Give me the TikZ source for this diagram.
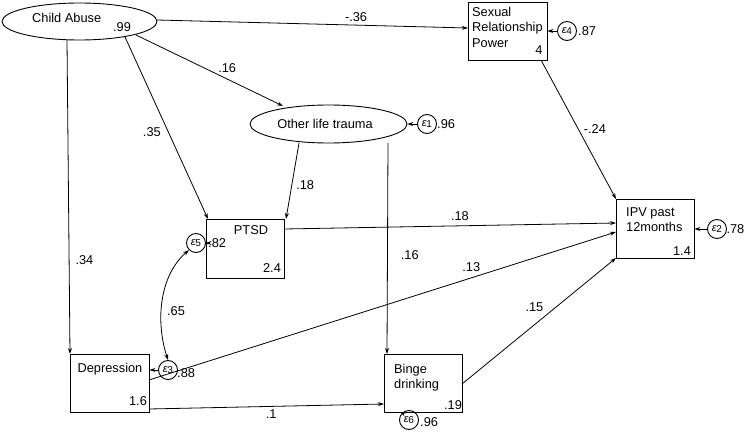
\documentclass[tikz,border=0pt]{standalone}
\usepackage{fontspec}
\setmainfont{Liberation Sans}
\usetikzlibrary{shapes.geometric,arrows.meta}
\newcommand{\errlab}[1]{\textit{ε}\kern-0.5pt\raisebox{-1.5pt}{\fontsize{10}{10}\selectfont #1}}
\begin{document}
\begin{tikzpicture}[x=1pt,y=-1pt,
  font=\fontsize{12.8}{15.5}\selectfont,
  varbox/.style={draw, line width=0.9pt, rectangle, inner sep=0pt},
  latent/.style={draw, line width=0.9pt, ellipse, inner sep=0pt},
  errc/.style={draw, line width=0.9pt, circle, inner sep=0pt, minimum size=19pt, font=\fontsize{11}{11}\selectfont},
  path/.style={line width=0.8pt, -{Stealth[length=6pt,width=4pt]}},
  cov/.style={line width=0.8pt, {Stealth[length=6pt,width=4pt]}-{Stealth[length=6pt,width=4pt]}},
  coef/.style={inner sep=1pt},
  txt/.style={inner sep=0pt, align=left}]
\useasboundingbox (0,0) rectangle (745,433);

% latent variables
\node[latent, minimum width=155pt, minimum height=37pt] (ca) at (79.5,21.5) {};
\node[txt, anchor=west] (catxt) at (32,18) {Child Abuse};
\node[txt] (caval) at (122,27) {.99};

\node[latent, minimum width=157pt, minimum height=38pt] (olt) at (328.5,124) {};
\node[txt] (olttxt) at (325,124) {Other life trauma};

% observed variables
\node[varbox, minimum width=79pt, minimum height=58pt] (srp) at (507.5,31) {};
\node[txt, anchor=north west] (srptxt) at (472,7) {Sexual\\Relationship\\Power};
\node[txt] (srpval) at (539,50) {4};

\node[varbox, minimum width=78pt, minimum height=59pt] (ptsd) at (245,248.5) {};
\node[txt] (ptsdtxt) at (251,230) {PTSD};
\node[txt] (ptsdval) at (272,268) {2.4};

\node[varbox, minimum width=78pt, minimum height=59pt] (ipv) at (655,228.5) {};
\node[txt, anchor=north west] (ipvtxt) at (626,207) {IPV past\\12months};
\node[txt] (ipvval) at (682,251) {1.4};

\node[varbox, minimum width=79pt, minimum height=58pt] (dep) at (109.5,383) {};
\node[txt] (deptxt) at (110,369) {Depression};
\node[txt] (depval) at (138,401) {1.6};

\node[varbox, minimum width=78pt, minimum height=58pt] (bin) at (423,383) {};
\node[txt, anchor=north west] (bintxt) at (394,364) {Binge\\drinking};
\node[txt] (binval) at (453,405) {.19};

% error terms
\node[errc] (e4) at (567,31) {\errlab{4}};
\node[txt, anchor=west] (e4v) at (578,31) {.87};
\node[errc] (e1) at (427,124) {\errlab{1}};
\node[txt, anchor=west] (e1v) at (437,124) {.96};
\node[errc] (e2) at (717,229) {\errlab{2}};
\node[txt, anchor=east] (e2v) at (744.5,229) {.78};
\node[errc] (e5) at (196,243) {\errlab{5}};
\node[txt, anchor=west] (e5v) at (208,243) {.82};
\node[errc] (e3) at (168,370) {\errlab{3}};
\node[txt, anchor=west] (e3v) at (177,373) {.88};
\node[errc] (e6) at (409,420) {\errlab{6}};
\node[txt, anchor=west] (e6v) at (420,422) {.96};

\draw[path] (e4) -- (srp.east |- e4);
\draw[path] (e1) -- (olt.east);
\draw[path] (e2) -- (ipv.east |- e2);
\draw[path] (e5) -- (ptsd.west |- e5);
\draw[path] (e3) -- (dep.east |- e3);
\coordinate (binbot) at (400,412);
\draw[path] (e6.north west) -- (binbot);

% structural paths
\coordinate (caE) at (157,20);
\coordinate (caP) at (125,37);
\coordinate (caO) at (136,35);
\coordinate (caD) at (67,40);
\draw[path] (caE) -- (468,28) coordinate (srpin) node[coef, pos=0.64, above=2pt] (l1) {-.36};
\draw[path] (caO) -- (283,106) coordinate (oltin) node[coef, pos=0.55, above right=0pt] (l2) {.16};
\draw[path] (caP) -- (208,219) coordinate (ptsdin1) node[coef, pos=0.52, left=6pt] (l3) {.35};
\draw[path] (caD) -- (70,354) coordinate (depin) node[coef, pos=0.7, right=5pt] (l4) {.34};
\draw[path] (299,143) coordinate (oltP) -- (286,219) coordinate (ptsdin2) node[coef, pos=0.55, right=3pt] (l5) {.18};
\draw[path] (388,143) coordinate (oltB) -- (387,354) coordinate (binin) node[coef, pos=0.53, right=12pt] (l6) {.16};
\draw[path] (541,60) coordinate (srpout) -- (616,199) coordinate (ipvin1) node[coef, pos=0.5, right=4pt] (l7) {-.24};
\draw[path] (284,229) coordinate (ptsdout) -- (616,223) coordinate (ipvin2) node[coef, pos=0.53, above=4pt] (l8) {.18};
\draw[path] (149,380) coordinate (depout) -- (616,232) coordinate (ipvin3) node[coef, pos=0.69, above=5pt] (l9) {.13};
\draw[path] (149,409) coordinate (depout2) -- (384,404) coordinate (binin2) node[coef, pos=0.52, below=2pt] (l10) {.1};
\draw[path] (462,384) coordinate (binout) -- (616,258) coordinate (ipvin4) node[coef, pos=0.55, above left=2pt] (l11) {.15};

% covariance
\draw[cov] (e3.north) .. controls (155,320) and (160,275) .. (e5.south west);
\node[coef] (l12) at (176,311) {.65};
\end{tikzpicture}
\end{document}
